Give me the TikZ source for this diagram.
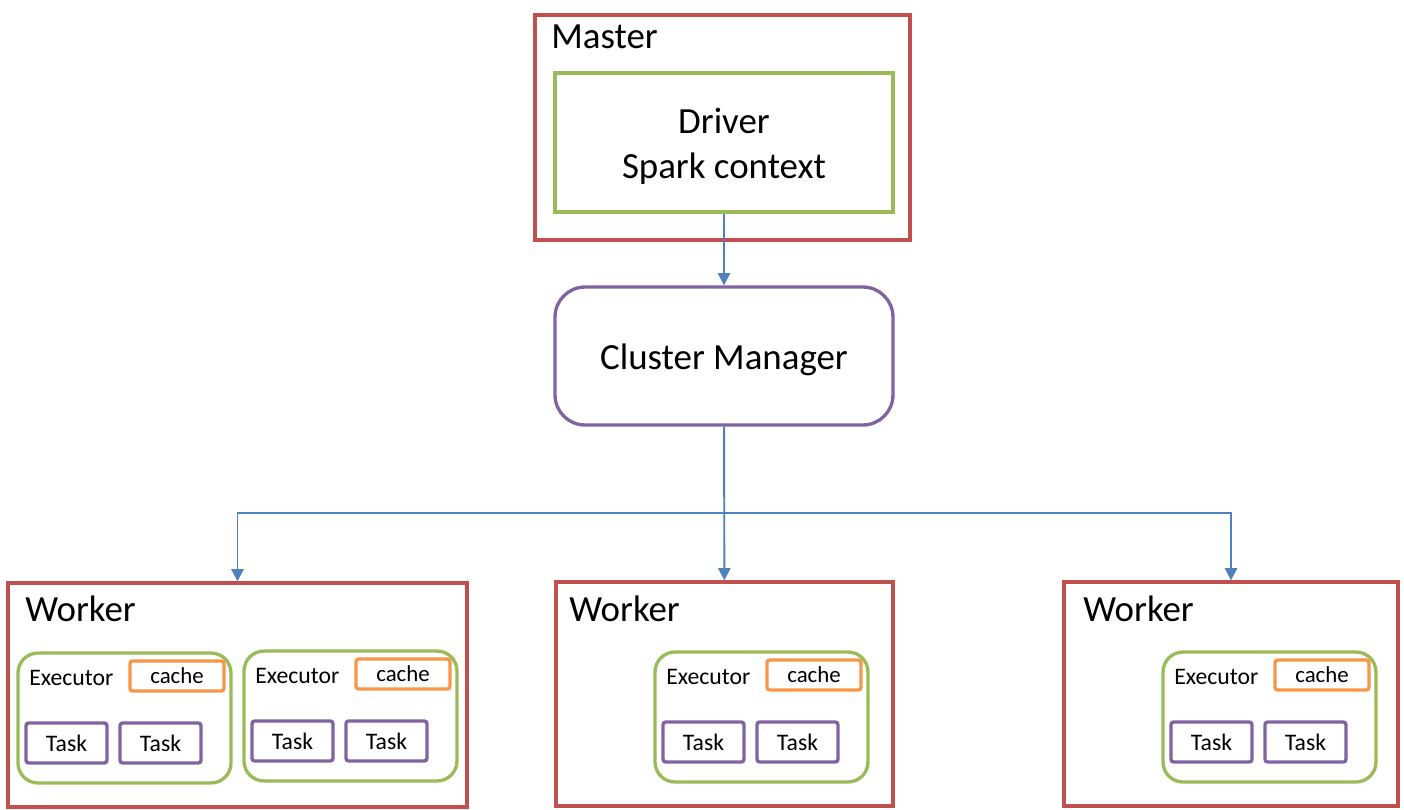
\documentclass[tikz,border=0pt]{standalone}
\usepackage{fontspec}
\setmainfont{Carlito}
\usetikzlibrary{arrows.meta}
\definecolor{boxred}{HTML}{C0504D}
\definecolor{boxgreen}{HTML}{9BBB59}
\definecolor{boxpurple}{HTML}{8064A2}
\definecolor{boxorange}{HTML}{F79646}
\definecolor{linkblue}{HTML}{4F81BD}
\newcommand{\lowertext}[1]{\raisebox{-0.08cm}[\height][\depth]{#1}}
\begin{document}
\begin{tikzpicture}
        [x=0.02cm, y=-0.02cm,
         hostbox/.style={draw=boxred, line width=1.9pt, inner sep=0pt},
         drvbox/.style={draw=boxgreen, line width=1.9pt, inner sep=0pt, font=\fontsize{21}{25.5}\selectfont},
         cmbox/.style={draw=boxpurple, line width=1.9pt, rounded corners=0.6cm, inner sep=0pt, font=\fontsize{21}{25.5}\selectfont},
         execbox/.style={draw=boxgreen, line width=1.9pt, rounded corners=0.4cm, inner sep=0pt, minimum width=4.26cm, minimum height=2.6cm},
         cachebox/.style={draw=boxorange, line width=1.9pt, rounded corners=1.5pt, inner sep=0pt, minimum width=1.88cm, minimum height=0.6cm, font=\fontsize{13}{15}\selectfont},
         taskbox/.style={draw=boxpurple, line width=1.9pt, rounded corners=1.5pt, inner sep=0pt, minimum width=1.62cm, minimum height=0.8cm, font=\fontsize{13.5}{16}\selectfont},
         biglabel/.style={anchor=base west, inner sep=0pt, font=\fontsize{21}{25.5}\selectfont},
         smalllabel/.style={anchor=base west, inner sep=0pt, font=\fontsize{13.5}{16}\selectfont},
         link/.style={draw=linkblue, line width=1.1pt, -{Triangle[width=7pt,length=7pt]}}]
        \useasboundingbox (0,0) rectangle (1404,809);
        % master side
        \node [hostbox, minimum width=7.5cm, minimum height=4.5cm] (master) at (722.5,127.5) {};
        \node [biglabel] (masterlbl) at (551,48) {Master};
        \node [drvbox, minimum width=6.76cm, minimum height=2.78cm] (driver) at (724,142.5)
            {\lowertext{\parbox{6cm}{\centering Driver\\Spark context}}};
        \node [cmbox, minimum width=6.76cm, minimum height=2.76cm] (cm) at (724,356) {\lowertext{Cluster Manager}};
        % workers
        \node [hostbox, minimum width=9.18cm, minimum height=4.48cm] (w1) at (237.5,695) {};
        \node [hostbox, minimum width=6.74cm, minimum height=4.48cm] (w2) at (724.5,694) {};
        \node [hostbox, minimum width=6.68cm, minimum height=4.48cm] (w3) at (1231,694) {};
        \node [biglabel] (w1lbl) at (25,621) {Worker};
        \node [biglabel] (w2lbl) at (569,621) {Worker};
        \node [biglabel] (w3lbl) at (1083,621) {Worker};
        \foreach \n/\x/\y in {e1/18/653, e2/244/651, e3/655/652, e4/1163/652} {
            \node [execbox] (\n) at (\x+106.5,\y+65) {};
            \node [smalllabel] (\n-lbl) at (\x+11,\y+32) {Executor};
            \node [cachebox] (\n-cache) at (\x+159,\y+23) {cache};
            \node [taskbox] (\n-t1) at (\x+48.5,\y+90) {Task};
            \node [taskbox] (\n-t2) at (\x+142.5,\y+90) {Task};
        }
        % links
        \coordinate (split) at (724,513);
        \draw [link] (driver) -- (cm);
        \draw [link] (cm) -- (w2);
        \draw [link] (split) -| (w1);
        \draw [link] (split) -| (w3);
    \end{tikzpicture}
\end{document}
